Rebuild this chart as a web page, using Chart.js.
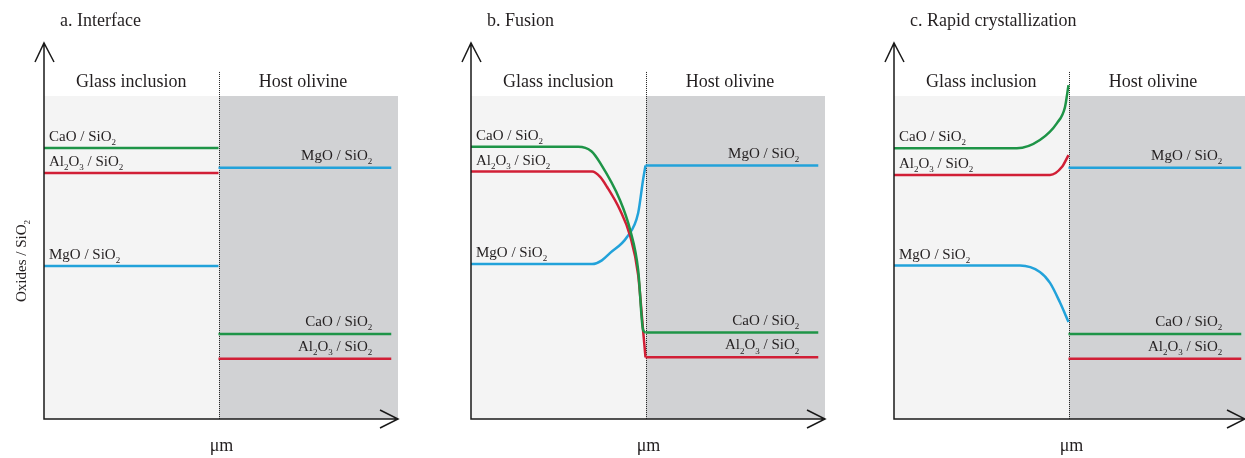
<!DOCTYPE html>
<html>
<head>
<meta charset="utf-8">
<script src="https://cdn.jsdelivr.net/npm/chart.js@4"></script>
<style>
  html, body { margin: 0; padding: 0; background: #fff; }
  #wrap { position: relative; width: 1245px; height: 458px; overflow: hidden; }
  #wrap canvas { position: absolute; left: 0; top: 0; }
</style>
</head>
<body>
<div id="wrap">
  <canvas id="panelA" width="1245" height="458"></canvas>
  <canvas id="panelB" width="1245" height="458"></canvas>
  <canvas id="panelC" width="1245" height="458"></canvas>
</div>
<script>
// text
const panelTitles = ['a. Interface', 'b. Fusion', 'c. Rapid crystallization'];
const zoneLabels = ['Glass inclusion', 'Host olivine'];
const oxideNames = ['CaO / SiO_2', 'Al_2O_3 / SiO_2', 'MgO / SiO_2'];
const xTitle = 'μm';
const yTitle = 'Oxides / SiO_2';

// distance (interface at 0), oxide ratio (arbitrary units)
// panel a - interface
const aCaOGlass = [[-5, 7.21], [0, 7.21]];
const aCaOHost = [[0, 2.26], [4.95, 2.26]];
const aAlGlass = [[-5, 6.54], [0, 6.54]];
const aAlHost = [[0, 1.60], [4.95, 1.60]];
const aMgGlass = [[-5, 4.07], [0, 4.07]];
const aMgHost = [[0, 6.68], [4.95, 6.68]];

// panel b - fusion
const bCaOGlass = [[-5, 7.24], [-1.93, 7.24], [-1.55, 7.12], [-1.30, 6.81], [-0.73, 5.82], [-0.44, 5.03], [-0.21, 3.96], [-0.07, 2.37], [0, 2.30]];
const bCaOHost = [[0, 2.30], [4.95, 2.30]];
const bAlGlass = [[-5, 6.58], [-1.53, 6.58], [-1.30, 6.44], [-1.10, 6.17], [-0.73, 5.56], [-0.44, 4.87], [-0.21, 3.83], [-0.07, 2.37], [0, 1.64]];
const bAlHost = [[0, 1.64], [4.95, 1.64]];
const bMgGlass = [[-5, 4.12], [-1.53, 4.12], [-1.25, 4.22], [-1.02, 4.41], [-0.53, 4.84], [-0.21, 5.48], [-0.07, 6.36], [0, 6.74]];
const bMgHost = [[0, 6.74], [4.95, 6.74]];

// panel c - rapid crystallization
const cCaOGlass = [[-5, 7.20], [-1.48, 7.20], [-0.82, 7.42], [-0.33, 7.87], [-0.10, 8.30], [0, 8.88]];
const cCaOHost = [[0, 2.26], [4.95, 2.26]];
const cAlGlass = [[-5, 6.49], [-0.53, 6.49], [-0.19, 6.70], [0, 7.02]];
const cAlHost = [[0, 1.60], [4.95, 1.60]];
const cMgGlass = [[-5, 4.08], [-1.39, 4.08], [-0.82, 3.91], [-0.53, 3.62], [-0.24, 3.09], [0, 2.58]];
const cMgHost = [[0, 6.68], [4.95, 6.68]];

const colors = ['#1e9447', '#d11f36', '#22a2da'];
const FONT = '"Liberation Serif", "Times New Roman", serif';
const INK = '#231f20';

// draws text with "_2" style subscripts
function richText(ctx, str, x, y, align, size) {
  const parts = str.split(/(_\d)/).filter(Boolean).map(p =>
    p[0] === '_' ? { t: p.slice(1), sub: true } : { t: p, sub: false });
  const subSize = Math.round(size * 0.62);
  let total = 0;
  parts.forEach(p => {
    ctx.font = (p.sub ? subSize : size) + 'px ' + FONT;
    p.w = ctx.measureText(p.t).width;
    total += p.w;
  });
  let cx = x;
  if (align === 'right') cx = x - total;
  if (align === 'center') cx = x - total / 2;
  ctx.textAlign = 'left';
  ctx.textBaseline = 'alphabetic';
  parts.forEach(p => {
    ctx.font = (p.sub ? subSize : size) + 'px ' + FONT;
    ctx.fillText(p.t, cx, p.sub ? y + size * 0.28 : y);
    cx += p.w;
  });
}

const decor = {
  id: 'decor',
  beforeDatasetsDraw(chart, args, opts) {
    const { ctx, chartArea: ca, scales: { x, y } } = chart;
    const xi = Math.round(x.getPixelForValue(0));
    const top = y.getPixelForValue(opts.boxTop);
    ctx.save();
    ctx.fillStyle = '#f4f4f4';
    ctx.fillRect(ca.left, top, xi - ca.left, ca.bottom - top);
    ctx.fillStyle = '#d1d2d4';
    ctx.fillRect(xi, top, ca.right - xi, ca.bottom - top);
    // dotted interface line
    ctx.strokeStyle = '#222';
    ctx.lineWidth = 1;
    ctx.setLineDash([1, 1]);
    ctx.beginPath();
    ctx.moveTo(xi + 0.5, y.getPixelForValue(opts.dividerTop));
    ctx.lineTo(xi + 0.5, ca.bottom);
    ctx.stroke();
    ctx.restore();
  },
  afterDatasetsDraw(chart, args, opts) {
    const { ctx, chartArea: ca, scales: { x, y } } = chart;
    const xi = x.getPixelForValue(0);
    ctx.save();
    // axes with open arrow heads
    ctx.strokeStyle = '#1a1a1a';
    ctx.lineWidth = 1.5;
    ctx.beginPath();
    ctx.moveTo(ca.left, ca.top);
    ctx.lineTo(ca.left, ca.bottom);
    ctx.lineTo(ca.right, ca.bottom);
    ctx.moveTo(ca.left - 9, ca.top + 19);
    ctx.lineTo(ca.left, ca.top);
    ctx.lineTo(ca.left + 10, ca.top + 19);
    ctx.moveTo(ca.right - 18, ca.bottom - 9);
    ctx.lineTo(ca.right, ca.bottom);
    ctx.lineTo(ca.right - 18, ca.bottom + 9);
    ctx.stroke();

    ctx.fillStyle = INK;
    richText(ctx, opts.title, ca.left + 16, 26, 'left', 18);
    const endX = x.getPixelForValue(4.95);
    richText(ctx, zoneLabels[0], (ca.left + xi) / 2, 87, 'center', 18);
    richText(ctx, zoneLabels[1], (xi + endX) / 2 - 2, 87, 'center', 18);
    richText(ctx, xTitle, xi + 3, 451, 'center', 18);

    // series labels, sitting just above each flat segment
    chart.data.datasets.forEach(ds => {
      if (!ds.label) return;
      if (ds.zone === 'glass') {
        richText(ctx, ds.label, ca.left + 5, y.getPixelForValue(ds.data[0].y) - 7, 'left', 15);
      } else {
        const last = ds.data[ds.data.length - 1];
        richText(ctx, ds.label, x.getPixelForValue(last.x) - 19, y.getPixelForValue(last.y) - 8, 'right', 15);
      }
    });

    if (opts.showY) {
      ctx.translate(26, 261);
      ctx.rotate(-Math.PI / 2);
      richText(ctx, yTitle, 0, 0, 'center', 15);
    }
    ctx.restore();
  }
};

function series(points, i, zone) {
  return {
    label: oxideNames[i],
    zone: zone,
    data: points.map(p => ({ x: p[0], y: p[1] })),
    borderColor: colors[i],
    borderWidth: 2.5,
    pointRadius: 0,
    fill: false,
    cubicInterpolationMode: 'monotone',
  };
}

function makePanel(id, title, sets, axisX, tipX, showY) {
  const pxPerUnit = 34.9;
  new Chart(document.getElementById(id), {
    type: 'line',
    data: {
      datasets: [
        series(sets[0], 0, 'glass'), series(sets[1], 0, 'host'),
        series(sets[2], 1, 'glass'), series(sets[3], 1, 'host'),
        series(sets[4], 2, 'glass'), series(sets[5], 2, 'host'),
      ],
    },
    options: {
      responsive: false,
      animation: false,
      layout: { padding: { left: axisX, right: 1245 - tipX, top: 43, bottom: 39 } },
      scales: {
        x: { type: 'linear', min: -5, max: -5 + (tipX - axisX) / pxPerUnit, display: false },
        y: { type: 'linear', min: 0, max: 10, display: false },
      },
      plugins: {
        legend: { display: false },
        tooltip: { enabled: false },
        decor: { title: title, boxTop: 8.59, dividerTop: 9.23, showY: showY },
      },
    },
    plugins: [decor],
  });
}

makePanel('panelA', panelTitles[0], [aCaOGlass, aCaOHost, aAlGlass, aAlHost, aMgGlass, aMgHost], 44, 398, true);
makePanel('panelB', panelTitles[1], [bCaOGlass, bCaOHost, bAlGlass, bAlHost, bMgGlass, bMgHost], 471, 825, false);
makePanel('panelC', panelTitles[2], [cCaOGlass, cCaOHost, cAlGlass, cAlHost, cMgGlass, cMgHost], 894, 1245, false);
</script>
</body>
</html>
